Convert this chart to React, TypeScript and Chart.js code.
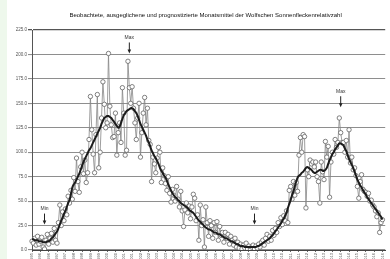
import React, { useEffect, useRef } from "react";
import { Chart, registerables } from "chart.js";

Chart.register(...registerables);

const TITLE =
  "Beobachtete, ausgeglichene und prognostizierte Monatsmittel der Wolfschen Sonnenfleckenrelativzahl";

const MONTH_NAMES = ["Jan", "Feb", "Mrz", "Apr", "Mai", "Jun", "Jul", "Aug", "Sep", "Okt", "Nov", "Dez"];
const START_YEAR = 1995;
const START_MONTH = 7; // August
const CATEGORY_COUNT = 255;

const Y_TICKS = [0, 25, 50, 75, 100, 125, 150, 175, 200, 225];

// Beobachtete Monatsmittel
const MONTHLY = [
  9, 7, 12, 5, 14, 6, 9, 13, 3, 1, 10, 16,
  6, 12, 17, 8, 22, 10, 7, 28, 46, 25, 39, 30,
  42, 36, 55, 48, 61, 52, 74, 60, 94, 70, 59, 85,
  100, 78, 92, 69, 79, 113, 157, 123, 98, 79, 118, 159,
  84, 100, 135, 172, 149, 125, 130, 201, 147, 128, 115, 116,
  140, 97, 120, 130, 110, 166, 140, 97, 102, 193, 166, 150,
  167, 145, 130, 113, 135, 150, 95, 120, 140, 156, 128, 145,
  112, 108, 70, 95, 88, 79, 94, 105, 100, 69, 84, 76,
  68, 61, 75, 58, 49, 62, 56, 50, 65, 52, 44, 60,
  40, 24, 41, 48, 38, 45, 32, 44, 57, 53, 30, 36,
  10, 46, 25, 31, 3, 44, 28, 14, 30, 25, 12, 28,
  18, 29, 10, 24, 15, 18, 8, 18, 12, 16, 6, 14,
  10, 5, 12, 3, 8, 2, 6, 1, 5, 2, 7, 1,
  4, 0, 3, 5, 1, 4, 2, 6, 3, 8, 10, 5,
  12, 16, 9, 14, 10, 20, 15, 22, 18, 28, 24, 33,
  26, 35, 30, 40, 28, 61, 65, 52, 70, 56, 69, 60,
  97, 115, 100, 118, 116, 43, 82, 75, 92, 88, 90, 85,
  90, 75, 70, 48, 90, 80, 72, 111, 95, 106, 54, 90,
  100, 98, 113, 105, 110, 135, 120, 110, 110, 100, 112, 95,
  123, 89, 95, 82, 84, 76, 65, 53, 70, 77, 62, 60,
  59, 55, 58, 50, 51, 46, 44, 40, 34, 38, 18, 28,
  31,
];

// Ausgeglichene Monatsmittel
const SMOOTHED = [
  11, 11, 10, 10, 10, 9, 9, 9, 8, 8, 8, 9,
  9, 10, 12, 13, 15, 17, 19, 22, 26, 30, 33, 37,
  40, 44, 48, 51, 57, 64, 67, 69, 72, 75, 78, 82,
  86, 90, 93, 96, 99, 102, 104, 107, 110, 113, 116, 119,
  122, 125, 129, 132, 135, 136, 137, 137, 136, 135, 133, 131,
  129, 127, 125, 126, 130, 134, 138, 140, 142, 143, 144, 145,
  145, 144, 142, 140, 137, 133, 129, 126, 123, 120, 117, 113,
  110, 106, 102, 99, 96, 94, 91, 88, 84, 81, 79, 76,
  74, 71, 67, 64, 61, 58, 56, 54, 53, 51, 50, 48,
  47, 46, 45, 44, 43, 41, 40, 39, 38, 36, 34, 32,
  30, 29, 27, 26, 24, 23, 22, 21, 21, 20, 19, 18,
  18, 17, 16, 16, 15, 14, 13, 12, 12, 11, 10, 9,
  9, 8, 7, 6, 6, 5, 4, 4, 4, 3, 3, 3,
  3, 3, 3, 3, 3, 3, 4, 4, 5, 6, 7, 8,
  9, 10, 11, 12, 14, 15, 17, 19, 21, 23, 25, 27,
  30, 32, 35, 38, 43, 47, 51, 56, 60, 65, 70, 74,
  76, 77, 79, 80, 82, 84, 85, 84, 83, 82, 80, 79,
  79, 80, 81, 82, 82, 81, 81, 82, 84, 88, 92, 95,
  98, 100, 103, 105, 107, 109, 109, 108, 107, 104, 101, 97,
  93, 90, 87, 84, 80, 76, 72, 69, 66, 64, 61, 59,
  57, 54, 52, 50, 48, 46, 44, 42, 40, 38, 36, 34,
  31,
];

// Min/Max markers: category index and value at the arrow tip
const MARK_LABELS = ["Min", "Max", "Min", "Max"];
const MARK_INDEX = [9, 70, 160, 222];
const MARK_VALUE = [26, 201, 26, 146];

function buildLabels(): string[] {
  const out: string[] = [];
  for (let i = 0; i < CATEGORY_COUNT; i++) {
    const m = (START_MONTH + i) % 12;
    const y = START_YEAR + Math.floor((START_MONTH + i) / 12);
    out.push(MONTH_NAMES[m] + " " + String(y));
  }
  return out;
}

const FONT = "'Liberation Sans', Arial, sans-serif";

export default function App() {
  const ref = useRef<HTMLCanvasElement | null>(null);

  useEffect(() => {
    document.body.style.margin = "0";
    document.body.style.overflow = "hidden";
    const canvas = ref.current;
    if (!canvas) return;

    const bgPlugin = {
      id: "bg",
      beforeDraw(chart: any) {
        const ctx = chart.ctx;
        ctx.save();
        ctx.fillStyle = "#ffffff";
        ctx.fillRect(0, 0, chart.width, chart.height);
        ctx.fillStyle = "#eef8ec";
        ctx.fillRect(0, 0, 7, chart.height);
        ctx.restore();
      },
    };

    const titlePlugin = {
      id: "customTitle",
      afterDraw(chart: any) {
        const ctx = chart.ctx;
        const a = chart.chartArea;
        ctx.save();
        ctx.font = "6px " + FONT;
        ctx.fillStyle = "#111";
        ctx.textAlign = "center";
        ctx.textBaseline = "middle";
        ctx.fillText(TITLE, (a.left + a.right) / 2 - 3, 15);
        ctx.restore();
      },
    };

    const markPlugin = {
      id: "marks",
      afterDatasetsDraw(chart: any) {
        const ctx = chart.ctx;
        const xs = chart.scales.x;
        const ys = chart.scales.y;
        ctx.save();
        for (let k = 0; k < MARK_LABELS.length; k++) {
          const x = xs.getPixelForValue(MARK_INDEX[k]);
          const tip = ys.getPixelForValue(MARK_VALUE[k]);
          ctx.strokeStyle = "#222";
          ctx.fillStyle = "#222";
          ctx.lineWidth = 1;
          ctx.beginPath();
          ctx.moveTo(x, tip - 11);
          ctx.lineTo(x, tip - 3);
          ctx.stroke();
          ctx.beginPath();
          ctx.moveTo(x - 1.8, tip - 4);
          ctx.lineTo(x + 1.8, tip - 4);
          ctx.lineTo(x, tip);
          ctx.closePath();
          ctx.fill();
          ctx.font = "5px " + FONT;
          ctx.fillStyle = "#333";
          ctx.textAlign = "center";
          ctx.textBaseline = "middle";
          ctx.fillText(MARK_LABELS[k], x, tip - 16);
        }
        ctx.restore();
      },
    };

    const labels = buildLabels();

    const chart = new Chart(canvas, {
      type: "line",
      data: {
        labels,
        datasets: [
          {
            label: "ausgeglichen",
            data: SMOOTHED,
            borderColor: "#1c1c1c",
            borderWidth: 2,
            pointRadius: 0,
            tension: 0.2,
            order: 0,
          },
          {
            label: "beobachtet",
            data: MONTHLY,
            borderColor: "#858585",
            borderWidth: 0.8,
            pointRadius: 2.2,
            pointBackgroundColor: "#ffffff",
            pointBorderColor: "#626262",
            pointBorderWidth: 0.8,
            tension: 0,
            order: 1,
          },
        ],
      },
      options: {
        animation: false,
        responsive: false,
        maintainAspectRatio: false,
        devicePixelRatio: 1,
        layout: { padding: { top: 30, left: 0, right: 0, bottom: 0 } },
        plugins: {
          legend: { display: false },
          title: { display: false },
          tooltip: { enabled: false },
        },
        scales: {
          x: {
            type: "category",
            offset: false,
            afterFit(scale: any) {
              scale.height = 9;
            },
            grid: {
              display: true,
              drawOnChartArea: false,
              drawTicks: true,
              tickLength: 2,
              color: "#666",
            },
            border: { display: true, color: "#444", width: 1 },
            ticks: {
              autoSkip: false,
              maxRotation: 90,
              minRotation: 90,
              padding: 1,
              color: "#555",
              font: { size: 4, family: FONT },
              callback(_v: any, i: number) {
                return i % 6 === 0 ? labels[i] : null;
              },
            },
          },
          y: {
            min: 0,
            max: 225,
            afterFit(scale: any) {
              scale.width = 32;
            },
            afterBuildTicks(scale: any) {
              scale.ticks = Y_TICKS.map((v) => ({ value: v }));
            },
            grid: {
              color: (c: any) => (c.tick && c.tick.value === 225 ? "#555" : "#8e8e8e"),
              lineWidth: (c: any) => (c.tick && c.tick.value === 225 ? 1.3 : 1.1),
              tickLength: 4,
            },
            border: { display: true, color: "#555", width: 1 },
            ticks: {
              padding: 1,
              color: "#555",
              font: { size: 4.5, family: FONT },
              callback(v: any) {
                return Number(v).toFixed(1);
              },
            },
          },
        },
      },
      plugins: [bgPlugin, titlePlugin, markPlugin],
    } as any);

    return () => chart.destroy();
  }, []);

  return (
    <div style={{ width: 390, height: 259, overflow: "hidden" }}>
      <canvas ref={ref} width={390} height={259} style={{ display: "block", width: 390, height: 259 }} />
    </div>
  );
}
